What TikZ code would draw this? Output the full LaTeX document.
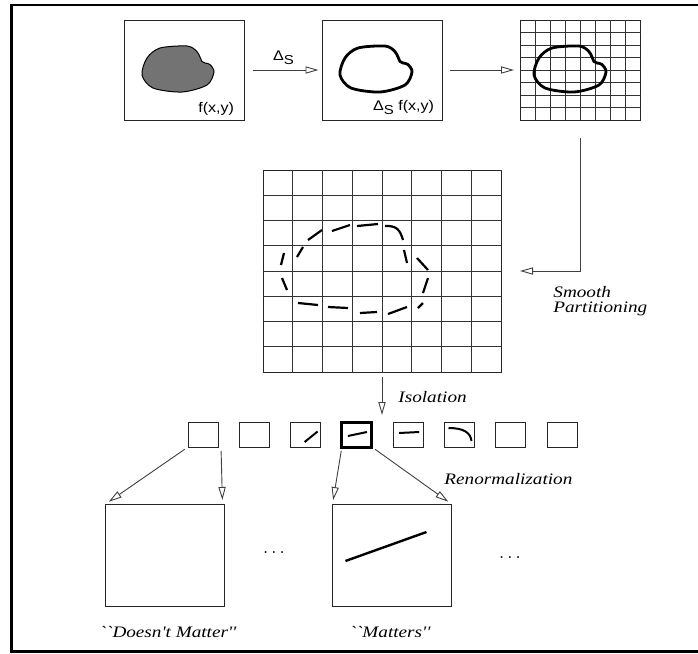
\documentclass[tikz,border=0pt]{standalone}
\usepackage{fontspec}
\newfontfamily\capfont[Ligatures=TeXOff,FakeStretch=1.2]{Liberation Serif}
\newfontfamily\lblfont[FakeStretch=1.15]{Liberation Sans}
\usetikzlibrary{positioning,arrows.meta}

\begin{document}
\begin{tikzpicture}[
    x=0.5pt, y=-0.5pt,
    frame/.style={draw=black!85, line width=0.5pt, rectangle, inner sep=0pt, outer sep=0pt, minimum width=60pt, minimum height=50pt},
    cell/.style={draw=black!85, line width=0.5pt, rectangle, inner sep=0pt, outer sep=0pt, minimum width=15pt, minimum height=12.5pt},
    hot/.style={cell, draw=black, line width=1.5pt},
    zoombox/.style={frame, minimum width=59.5pt, minimum height=51pt},
    line/.style={draw=black!75, line width=0.45pt, -{Triangle[open, length=6.5pt, width=3.6pt]}},
    gridline/.style={draw=black!80, line width=0.5pt},
    stroke/.style={draw=black, line width=1pt},
    caption/.style={font=\capfont\itshape\fontsize{8}{7.2}\selectfont, inner sep=0pt, align=left},
    tag/.style={font=\lblfont\fontsize{7}{8}\selectfont, inner sep=0pt},
    blob/.pic={\path[pic actions] plot[smooth cycle, tension=0.5] coordinates {(-24.5,-22) (2.5,-24) (12,-19) (15.5,-13) (17.5,-8.5) (20.5,-7) (25.5,-5.5) (29.5,2) (22.5,15) (-2.5,22) (-31.5,18) (-42.5,5) (-37.5,-12)};}
]
    \useasboundingbox (0,0) rectangle (698,654);
    \draw[line width=1.3pt] (11.5,5) rectangle (705,651.5);

    \node [frame] (f) at (184.5,70) {};
    \node [frame, right=39pt of f] (d) {};
    \node [frame, right=39pt of d] (g3) {};
    \foreach \i in {1,...,7} {
        \draw[gridline] ([xshift=\i*7.5pt]g3.north west) -- ([xshift=\i*7.5pt]g3.south west);
        \draw[gridline] ([yshift=-\i*6.25pt]g3.north west) -- ([yshift=-\i*6.25pt]g3.north east);
    }

    \path (f) pic[fill=black!55, draw=black, line width=0.5pt] {blob};
    \path (d) pic[draw=black, line width=1.4pt] {blob};
    \path ([xshift=-2pt]g3.center) pic[draw=black, line width=1.4pt] {blob};
    \node [tag, anchor=base east] at ([xshift=-5pt, yshift=3.75pt]f.south east) {f(x,y)};
    \node [tag, anchor=base east] at ([xshift=-4pt, yshift=5pt]d.south east) {Δ\raisebox{-2pt}{\fontsize{6.5}{7}\selectfont S} f(x,y)};

    \path [line, shorten <=4pt, shorten >=2pt] (f) -- node[tag, above=2.5pt] {Δ\raisebox{-2pt}{\fontsize{6.5}{7}\selectfont S}} (d);
    \path [line, shorten <=3.5pt, shorten >=3.25pt] (d) -- (g3);

    \node [frame, minimum width=119pt, minimum height=101pt] (big) at (382,271) {};
    \foreach \i in {1,...,7} {
        \draw[gridline] ([xshift=\i*14.875pt]big.north west) -- ([xshift=\i*14.875pt]big.south west);
        \draw[gridline] ([yshift=-\i*12.625pt]big.north west) -- ([yshift=-\i*12.625pt]big.north east);
    }
    \foreach \xa/\ya/\xb/\yb in {281/265/284/253, 297/257/303/247, 308/240/322/230, 332/231/350/225, 357/226/378/224,
        404/250/407/263, 417/258/428/270, 428/278/423/293, 423/303/418/308, 407/307/388/314,
        377/312/360/313, 348/308/328/307, 318/305/298/303, 287/290/282/278}
        \draw[stroke, line width=1.1pt] (\xa,\ya) -- (\xb,\yb);
    \draw[stroke, line width=1.1pt] (385,226) .. controls (397,225.5) and (400,230) .. (403,240);

    \path [line, shorten <=9pt, shorten >=9.5pt] (g3.south) |- (big.east);
    \node [caption, anchor=west] (smooth) at (553,301) {Smooth\\Partitioning};

    \node [cell] (s1) at (203,434.5) {};
    \node [cell, right=10.65pt of s1] (s2) {};
    \node [cell, right=10.65pt of s2] (s3) {};
    \node [hot, right=10.65pt of s3] (s4) {};
    \node [cell, right=10.65pt of s4] (s5) {};
    \node [cell, right=10.65pt of s5] (s6) {};
    \node [cell, right=10.65pt of s6] (s7) {};
    \node [cell, right=10.65pt of s7] (s8) {};
    \draw[stroke, shift={(s3)}] (-1,7.5) -- (12,-3);
    \draw[stroke, shift={(s4)}] (-9,1.5) -- (10,-2.5);
    \draw[stroke, shift={(s5)}] (-9,-1.5) -- (11,-2.5);
    \draw[stroke, shift={(s6)}] (-11,-6.5) .. controls (4,-6.5) and (11,-2) .. (12,6.5);

    \coordinate (iso) at (big.south |- s1.north);
    \path [line, shorten <=2.5pt, shorten >=3.5pt] (big.south) -- node[caption, right=8pt] {Isolation} (iso);

    \node [zoombox] (A) at (165,555) {};
    \node [zoombox, right=54pt of A] (B) {};
    \draw[stroke, line width=1.2pt, shift={(B)}] (-46.5,6) -- (34.5,-23);
    \node [font=\fontsize{9}{10}\selectfont] (dots1) at (274,553) {$\ldots$};
    \node [font=\fontsize{9}{10}\selectfont] (dots2) at (510,558) {$\ldots$};

    \path [line, shorten <=2pt, shorten >=2pt] (s1.south west) -- (A.north west);
    \path [line, shorten <=2pt, shorten >=2pt] ([xshift=1.5pt]s1.south east) -- ([xshift=-1pt]A.north east);
    \path [line, shorten <=2pt, shorten >=2pt] (s4.south west) -- (B.north west);
    \path [line, shorten <=2pt, shorten >=2pt] (s4.south east) -- (B.north east);
    \node [caption, anchor=west] (renorm) at (444,479) {Renormalization};

    \node [caption] (dm) at ([xshift=1.5pt, yshift=-13pt]A.south) {``Doesn't Matter''};
    \node [caption] (m) at ([xshift=-1pt, yshift=-13pt]B.south) {``Matters''};
\end{tikzpicture}
\end{document}
